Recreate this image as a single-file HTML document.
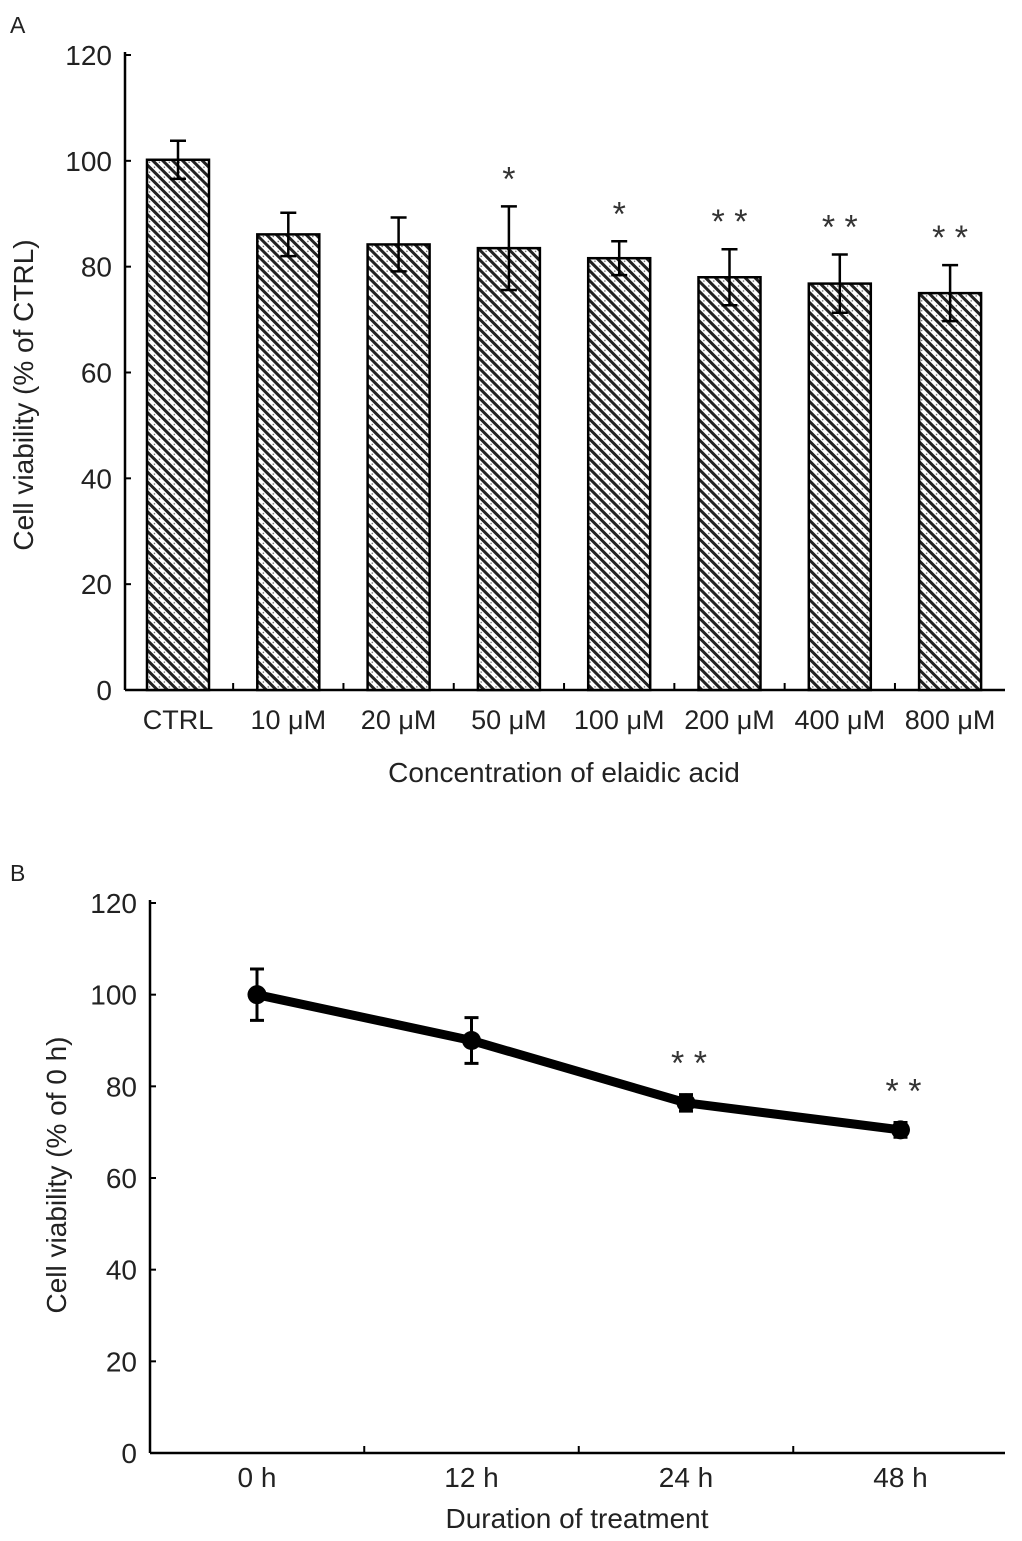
<!DOCTYPE html>
<html><head><meta charset="utf-8"><style>
html,body{margin:0;padding:0;background:#fff}
svg{display:block;font-family:"Liberation Sans",Arial,sans-serif}
</style></head><body>
<svg id="fig" width="1022" height="1541" viewBox="0 0 1022 1541" xmlns="http://www.w3.org/2000/svg">
<defs>
<pattern id="hatch" width="7" height="7" patternUnits="userSpaceOnUse" patternTransform="rotate(-45)">
<rect width="7" height="7" fill="#fff"/>
<rect x="0" y="0" width="3" height="7" fill="#222"/>
<circle cx="5" cy="3.5" r="0.7" fill="#555"/>
</pattern>
</defs>
<text x="10" y="33" font-size="23" fill="#222">A</text>
<text x="10" y="881" font-size="23" fill="#222">B</text>
<g id="chartA"></g>
<g id="chartB"></g>
</svg>
<script>
const NS="http://www.w3.org/2000/svg";
function mk(parent,tag,attrs,text){const e=document.createElementNS(NS,tag);for(const k in attrs)e.setAttribute(k,attrs[k]);if(text!==undefined)e.textContent=text;parent.appendChild(e);return e;}

// Panel A data
const catsA=["CTRL","10 μM","20 μM","50 μM","100 μM","200 μM","400 μM","800 μM"];
const valsA=[100.2,86.1,84.2,83.5,81.6,78.0,76.8,75.0];
const errsA=[3.6,4.1,5.1,7.9,3.2,5.3,5.5,5.3];
const sigA=["","","","*","*","* *","* *","* *"];
const ticksA=[0,20,40,60,80,100,120];

// Panel B data
const catsB=["0 h","12 h","24 h","48 h"];
const valsB=[100,90,76.4,70.5];
const errsB=[5.6,5.0,1.8,1.6];
const sigB=["","","* *","* *"];
const ticksB=[0,20,40,60,80,100,120];

const FS=28;

// Panel A
(function(){
const g=document.getElementById('chartA');
const x0=125,x1=1005,yb=690,yt=55;
const y=v=>yb-(v/120)*(yb-yt);
const step=110.3,first=178;
const xc=i=>first+i*step;
mk(g,'line',{x1:x0,y1:yt-3,x2:x0,y2:yb,stroke:'#000','stroke-width':2.5,});
mk(g,'line',{x1:x0,y1:yb,x2:x1,y2:yb,stroke:'#000','stroke-width':2.5,});
ticksA.forEach(t=>{
 const l=mk(g,'line',{x1:x0,y1:y(t),x2:x0+6,y2:y(t),stroke:'#000','stroke-width':2});
 
 
 const tx=mk(g,'text',{x:112,y:y(t)+10,'font-size':FS,'text-anchor':'end',fill:'#222'},String(t));
 
 
});
for(let i=1;i<catsA.length;i++){
 const xx=(xc(i-1)+xc(i))/2;
 const l=mk(g,'line',{x1:xx,y1:yb,x2:xx,y2:yb-7,stroke:'#000','stroke-width':2});
 
 
}
catsA.forEach((c,i)=>{
 const w=62,cx=xc(i);
 const r=mk(g,'rect',{x:cx-w/2,y:y(valsA[i]),width:w,height:yb-y(valsA[i]),fill:'url(#hatch)',stroke:'#000','stroke-width':2.5});
 
 
 const eb=mk(g,'path',{d:`M${cx},${y(valsA[i]+errsA[i])}V${y(valsA[i]-errsA[i])}M${cx-8},${y(valsA[i]+errsA[i])}H${cx+8}M${cx-8},${y(valsA[i]-errsA[i])}H${cx+8}`,stroke:'#000','stroke-width':2.5,fill:'none'});
 
 
 const t=mk(g,'text',{x:cx,y:729,'font-size':27,'text-anchor':'middle',fill:'#222'},c);
 
 
 if(sigA[i]){
  const s=mk(g,'text',{x:cx,y:y(valsA[i]+errsA[i])-16,'font-size':34,'text-anchor':'middle',fill:'#333'},sigA[i]);
  
  
 }
});
const xt=mk(g,'text',{x:564,y:782,'font-size':FS,'text-anchor':'middle',fill:'#222'},'Concentration of elaidic acid');


const yt2=mk(g,'text',{x:0,y:0,'font-size':FS,'text-anchor':'middle',fill:'#222',transform:'translate(33,395) rotate(-90)'},'Cell viability (% of CTRL)');


})();

// Panel B
(function(){
const g=document.getElementById('chartB');
const x0=150,x1=1005,yb=1453,yt=903;
const y=v=>yb-(v/120)*(yb-yt);
const step=214.5,first=257;
const xc=i=>first+i*step;
mk(g,'line',{x1:x0,y1:yt-3,x2:x0,y2:yb,stroke:'#000','stroke-width':2.5,});
mk(g,'line',{x1:x0,y1:yb,x2:x1,y2:yb,stroke:'#000','stroke-width':2.5,});
ticksB.forEach(t=>{
 const l=mk(g,'line',{x1:x0,y1:y(t),x2:x0+6,y2:y(t),stroke:'#000','stroke-width':2});
 
 
 const tx=mk(g,'text',{x:137,y:y(t)+10,'font-size':FS,'text-anchor':'end',fill:'#222'},String(t));
 
 
});
for(let i=1;i<catsB.length;i++){
 const xx=(xc(i-1)+xc(i))/2;
 const l=mk(g,'line',{x1:xx,y1:yb,x2:xx,y2:yb-7,stroke:'#000','stroke-width':2});
 
 
}
const pts=valsB.map((v,i)=>xc(i)+','+y(v)).join(' ');
const pl=mk(g,'polyline',{points:pts,fill:'none',stroke:'#000','stroke-width':9,'stroke-linejoin':'round'});


catsB.forEach((c,i)=>{
 const cx=xc(i),cy=y(valsB[i]);
 const eb=mk(g,'path',{d:`M${cx},${y(valsB[i]+errsB[i])}V${y(valsB[i]-errsB[i])}M${cx-7},${y(valsB[i]+errsB[i])}H${cx+7}M${cx-7},${y(valsB[i]-errsB[i])}H${cx+7}`,stroke:'#000','stroke-width':3,fill:'none'});
 
 
 const p=mk(g,'circle',{cx:cx,cy:cy,r:9.5,fill:'#000'});
 
 
 const t=mk(g,'text',{x:cx,y:1487,'font-size':FS,'text-anchor':'middle',fill:'#222'},c);
 
 
 if(sigB[i]){
  const s=mk(g,'text',{x:cx+3,y:y(valsB[i]+errsB[i])-20,'font-size':34,'text-anchor':'middle',fill:'#333'},sigB[i]);
  
  
 }
});
const xt=mk(g,'text',{x:577,y:1528,'font-size':FS,'text-anchor':'middle',fill:'#222'},'Duration of treatment');


const yt2=mk(g,'text',{x:0,y:0,'font-size':FS,'text-anchor':'middle',fill:'#222',transform:'translate(66,1175) rotate(-90)'},'Cell viability (% of 0 h)');


})();
</script>
</body></html>
